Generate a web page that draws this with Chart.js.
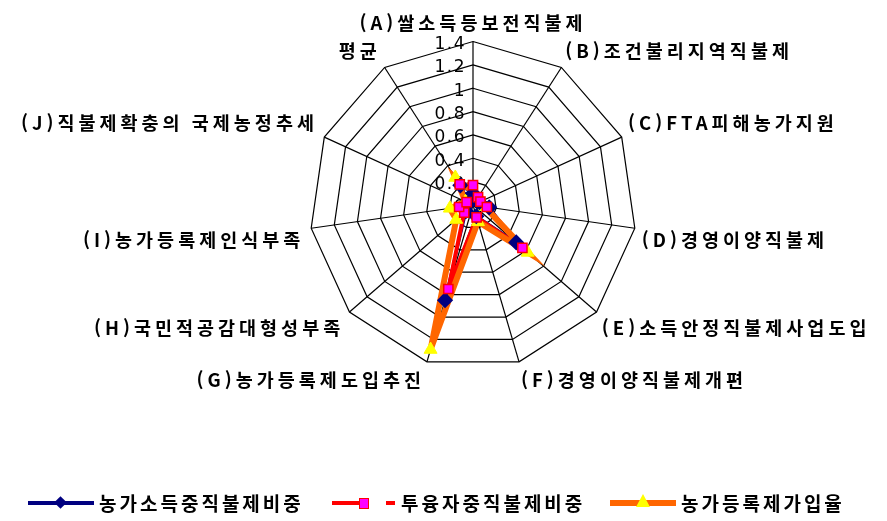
<!DOCTYPE html>
<html lang="ko">
<head>
<meta charset="utf-8">
<title>직불제 관련 지표</title>
<script src="https://cdn.jsdelivr.net/npm/chart.js@4.4.1/dist/chart.umd.min.js"></script>
<style>
  html, body { margin: 0; padding: 0; background: #fff; }
  #wrap { position: relative; width: 887px; height: 521px; overflow: hidden; }
  #chart { position: absolute; left: 0; top: 0; }
  .lg { position: absolute; top: 491px; height: 24px; font-family: "Noto Sans CJK KR", sans-serif;
        font-weight: bold; font-size: 19px; letter-spacing: 3px; line-height: 24px; color: #000; white-space: nowrap; }
  .bar { position: absolute; }
</style>
</head>
<body>
<div id="wrap">
  <!-- drawing surface is a little wider than the frame so the long left-hand labels leave room for a larger web -->
  <canvas id="chart" width="908" height="521"></canvas>
  <!-- legend -->
  <div class="bar" style="left:28px;top:501px;width:66px;height:4px;background:#000080"></div>
  <div class="bar" style="left:56px;top:498px;width:9px;height:9px;background:#000080;transform:rotate(45deg)"></div>
  <div class="lg" style="left:99px">농가소득중직불제비중</div>

  <div class="bar" style="left:332px;top:501px;width:30px;height:4px;background:#FF0000"></div>
  <div class="bar" style="left:359px;top:498px;width:8px;height:9px;background:#FF00FF;border:1px solid #FF0000"></div>
  <div class="bar" style="left:386px;top:501px;width:9px;height:4px;background:#FF0000"></div>
  <div class="lg" style="left:401px">투융자중직불제비중</div>

  <div class="bar" style="left:610px;top:500px;width:66px;height:6px;background:#FF6600"></div>
  <div class="bar" style="left:636px;top:494px;width:0;height:0;border-left:7px solid transparent;border-right:7px solid transparent;border-bottom:13px solid #FFFF00"></div>
  <div class="lg" style="left:681px">농가등록제가입율</div>
</div>
<script>
// axis categories, clockwise from the top
const categories = [
  '(A)쌀소득등보전직불제',
  '(B)조건불리지역직불제',
  '(C)FTA피해농가지원',
  '(D)경영이양직불제',
  '(E)소득안정직불제사업도입',
  '(F)경영이양직불제개편',
  '(G)농가등록제도입추진',
  '(H)국민적공감대형성부족',
  '(I)농가등록제인식부족',
  '(J)직불제확충의 국제농정추세',
  '평균'
];

// series values, same order as categories
const incomeShare   = [0.10, 0.05, 0.06, 0.14, 0.49, 0.10, 0.85, 0.08, 0.06, 0.04, 0.20]; // 농가소득중직불제비중
const investShare   = [0.17, 0.08, 0.07, 0.12, 0.56, 0.11, 0.75, 0.10, 0.12, 0.06, 0.21]; // 투융자중직불제비중
const registerRate  = [0.11, 0.05, 0.08, 0.10, 0.62, 0.15, 1.29, 0.19, 0.20, 0.07, 0.28]; // 농가등록제가입율

// radial tick values and their labels
const tickValues = [0, 0.2, 0.4, 0.6, 0.8, 1, 1.2, 1.4];
const tickLabels = ['0', '0.2', '0.4', '0.6', '0.8', '1', '1.2', '1.4'];

const LABEL_FONT = '"Noto Sans CJK KR", "Noto Sans", sans-serif';
const LABEL_SPACING = '4px';

// wide letter spacing for the axis labels
const spacingPlugin = {
  id: 'spacing',
  beforeLayout(chart) { chart.ctx.letterSpacing = LABEL_SPACING; },
  beforeDraw(chart) { chart.ctx.letterSpacing = LABEL_SPACING; }
};

// tick labels on the left of the top spoke, then all lines, then all markers
const layerPlugin = {
  id: 'layers',
  beforeDatasetsDraw(chart) {
    const ctx = chart.ctx;
    const scale = chart.scales.r;
    ctx.save();
    ctx.letterSpacing = '1.5px';
    ctx.font = '17px "DejaVu Sans", sans-serif';
    ctx.fillStyle = '#000';
    ctx.textAlign = 'right';
    ctx.textBaseline = 'middle';
    tickValues.forEach((v, i) => {
      const p = scale.getPointPositionForValue(0, v);
      ctx.fillText(tickLabels[i], p.x - 7, p.y + 3);
    });
    ctx.restore();

    const metas = chart.getSortedVisibleDatasetMetas();
    const lineOrder = [0, 1, 2];
    const markerOrder = [2, 0, 1];
    lineOrder.forEach(i => metas[i].dataset.draw(ctx));
    markerOrder.forEach(i => metas[i].data.forEach(pt => pt.draw(ctx)));
    return false;
  }
};

new Chart(document.getElementById('chart'), {
  type: 'radar',
  data: {
    labels: categories,
    datasets: [
      {
        label: '농가소득중직불제비중',
        data: incomeShare,
        borderColor: '#000080',
        backgroundColor: '#000080',
        borderWidth: 3,
        pointStyle: 'rectRot',
        pointRadius: 6,
        pointBackgroundColor: '#000080',
        pointBorderColor: '#000080',
        fill: false,
        tension: 0
      },
      {
        label: '투융자중직불제비중',
        data: investShare,
        borderColor: '#FF0000',
        backgroundColor: '#FF00FF',
        borderWidth: 4,
        pointStyle: 'rect',
        pointRadius: 6.5,
        pointBackgroundColor: '#FF00FF',
        pointBorderColor: '#FF0000',
        pointBorderWidth: 1.5,
        fill: false,
        tension: 0
      },
      {
        label: '농가등록제가입율',
        data: registerRate,
        borderColor: '#FF6600',
        backgroundColor: '#FFFF00',
        borderWidth: 6,
        pointStyle: 'triangle',
        pointRadius: 7.5,
        pointBackgroundColor: '#FFFF00',
        pointBorderColor: '#FFFF00',
        pointBorderWidth: 1,
        fill: false,
        tension: 0
      }
    ]
  },
  options: {
    responsive: false,
    animation: false,
    devicePixelRatio: 1,
    layout: { padding: { top: 2, bottom: 119, left: 3, right: 0 } },
    plugins: {
      legend: { display: false },
      tooltip: { enabled: false }
    },
    scales: {
      r: {
        min: 0,
        max: 1.4,
        ticks: { stepSize: 0.2, display: false },
        grid: { color: '#000', lineWidth: 1.2 },
        angleLines: { color: '#000', lineWidth: 1.2 },
        pointLabels: {
          color: '#000',
          padding: 7,
          font: { family: LABEL_FONT, size: 18.5, weight: 'bold' }
        }
      }
    }
  },
  plugins: [spacingPlugin, layerPlugin]
});
</script>
</body>
</html>
